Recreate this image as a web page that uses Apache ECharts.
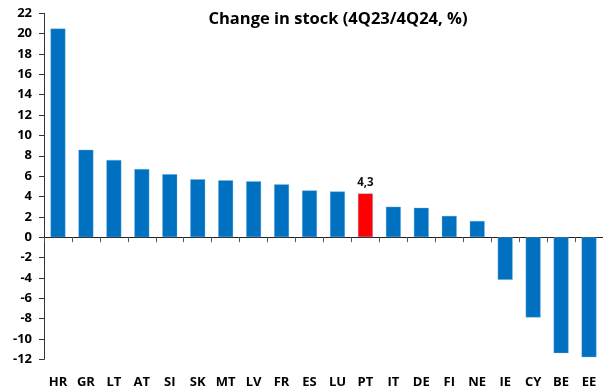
<!DOCTYPE html>
<html>
<head>
<meta charset="utf-8">
<script src="https://cdn.jsdelivr.net/npm/echarts@6/dist/echarts.min.js"></script>
<style>
  html, body { margin: 0; padding: 0; background: #fff; }
  #chart { width: 603px; height: 390px; }
</style>
</head>
<body>
<div id="chart"></div>
<script>
// Change in stock by country, 4Q23 to 4Q24 (%)
const countries = ['HR','GR','LT','AT','SI','SK','MT','LV','FR','ES','LU','PT','IT','DE','FI','NE','IE','CY','BE','EE'];
const changes = [20.5, 8.6, 7.6, 6.7, 6.2, 5.7, 5.6, 5.5, 5.2, 4.6, 4.5, 4.3, 3.0, 2.9, 2.1, 1.6, -4.2, -7.9, -11.4, -11.8];
const highlighted = 'PT';
const yTicks = { min: -12, max: 22, step: 2 };

const fontFamily = '"Open Sans", "Liberation Sans", sans-serif';
const blue = '#0070C0';
const red = '#FF0000';

const chart = echarts.init(document.getElementById('chart'), null, { renderer: 'canvas' });

const barData = changes.map((v, i) => {
  const isHi = countries[i] === highlighted;
  return {
    value: v,
    itemStyle: { color: isHi ? red : blue },
    label: isHi ? {
      show: true,
      position: 'top',
      distance: 5,
      formatter: (p) => String(p.value).replace('.', ','),
      fontFamily: fontFamily,
      fontWeight: 'bold',
      fontSize: 11.5,
      color: '#111'
    } : { show: false }
  };
});

chart.setOption({
  animation: false,
  backgroundColor: '#ffffff',
  title: {
    text: 'Change in stock (4Q23/4Q24, %)',
    left: 333,
    textAlign: 'center',
    top: 6,
    textStyle: { fontFamily: fontFamily, fontWeight: 'bold', fontSize: 16.5, color: '#000' }
  },
  grid: { left: 44, top: 13.3, width: 561, height: 346, containLabel: false },
  xAxis: [
    {
      type: 'category',
      data: countries,
      position: 'bottom',
      axisLine: { onZero: true, lineStyle: { color: '#222', width: 1 } },
      axisTick: { show: true, length: 5, lineStyle: { color: '#555' } },
      axisLabel: { show: false },
      splitLine: { show: false }
    },
    {
      type: 'category',
      data: countries,
      position: 'bottom',
      axisLine: { show: false, onZero: false },
      axisTick: { show: false },
      axisLabel: {
        show: true,
        margin: 16,
        interval: 0,
        fontFamily: fontFamily,
        fontWeight: 'bold',
        fontSize: 13,
        color: '#000'
      },
      splitLine: { show: false }
    }
  ],
  yAxis: {
    type: 'value',
    min: yTicks.min,
    max: yTicks.max,
    interval: yTicks.step,
    axisLine: { show: true, lineStyle: { color: '#333' } },
    axisTick: { show: true, length: 5, lineStyle: { color: '#333' } },
    axisLabel: {
      margin: 12,
      fontFamily: fontFamily,
      fontWeight: 'bold',
      fontSize: 13,
      color: '#000'
    },
    splitLine: { show: false }
  },
  series: [
    {
      type: 'bar',
      xAxisIndex: 0,
      data: barData,
      barWidth: '54%',
      itemStyle: { borderColor: 'rgba(120,180,230,0.6)', borderWidth: 0.6 }
    }
  ]
});
</script>
</body>
</html>
